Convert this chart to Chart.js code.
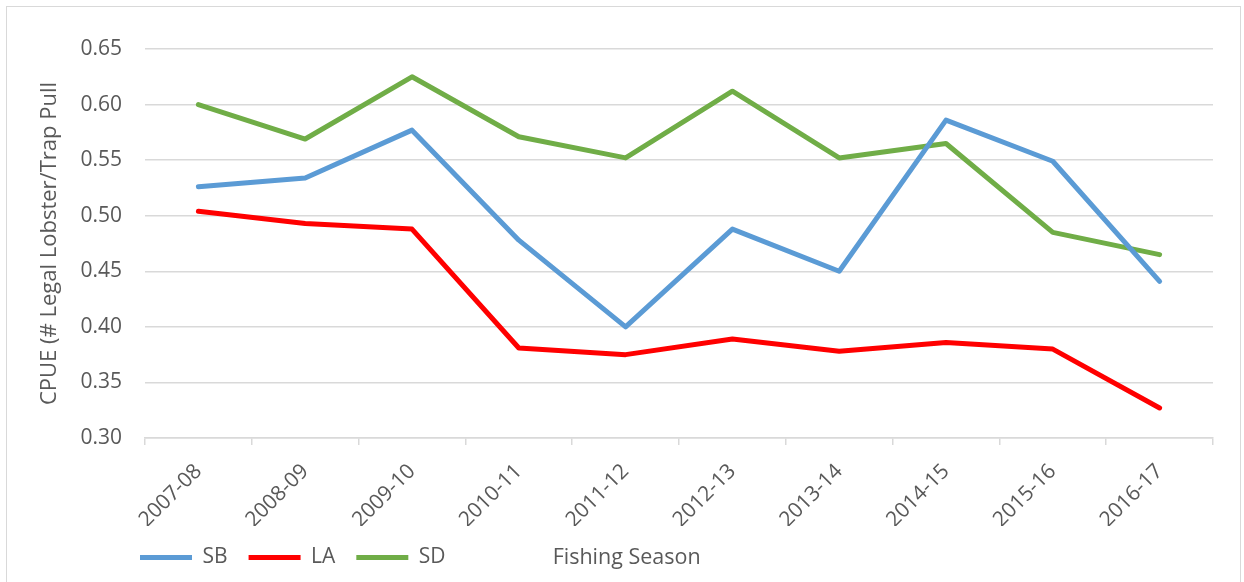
<!DOCTYPE html>
<html>
<head>
<meta charset="utf-8">
<script src="https://cdn.jsdelivr.net/npm/chart.js@4/dist/chart.umd.min.js"></script>
<style>
  html, body { margin: 0; padding: 0; background: #fff; overflow: hidden; }
  #wrap { position: relative; width: 1244px; height: 582px; }
  #frame { position: absolute; left: 6px; top: 6px; width: 1235px; height: 600px; border: 1.5px solid #d9d9d9; box-sizing: border-box; pointer-events: none; }
  canvas { position: absolute; left: 0; top: 0; }
</style>
</head>
<body>
<div id="wrap">
  <canvas id="cpueChart" width="1244" height="582"></canvas>
  <div id="frame"></div>
</div>
<script>
// --- data ---
const seasons = ['2007-08', '2008-09', '2009-10', '2010-11', '2011-12', '2012-13', '2013-14', '2014-15', '2015-16', '2016-17'];
const sbValues = [0.526, 0.534, 0.577, 0.478, 0.400, 0.488, 0.450, 0.586, 0.549, 0.441];
const laValues = [0.504, 0.493, 0.488, 0.381, 0.375, 0.389, 0.378, 0.386, 0.380, 0.327];
const sdValues = [0.600, 0.569, 0.625, 0.571, 0.552, 0.612, 0.552, 0.565, 0.485, 0.465];
const yTicks = [0.30, 0.35, 0.40, 0.45, 0.50, 0.55, 0.60, 0.65];

const FONT = '"Open Sans", Lato, "Liberation Sans", sans-serif';
const TEXT = '#595959';
const GRID = '#d9d9d9';

function lineSet(label, data, color) {
    return {
        label: label,
        data: data,
        borderColor: color,
        backgroundColor: color,
        borderWidth: 5,
        borderCapStyle: 'round',
        borderJoinStyle: 'round',
        pointRadius: 0,
        pointHoverRadius: 0,
        tension: 0,
        fill: false
    };
}

// legend shifted to the right like in the original, axis title drawn on the legend row
const legendRow = {
    id: 'legendRow',
    afterLayout(chart) {
        const lg = chart.legend;
        const shift = 119;
        lg.left = shift;
        lg.right = chart.width;
        lg.width = chart.width - shift;
    },
    afterDraw(chart) {
        const lg = chart.legend;
        const box = lg.legendHitBoxes && lg.legendHitBoxes[0];
        const area = chart.chartArea;
        const y = box ? box.top + box.height / 2 : lg.top + lg.height / 2;
        const ctx = chart.ctx;
        ctx.save();
        ctx.font = '21.5px ' + FONT;
        ctx.fillStyle = TEXT;
        ctx.textAlign = 'center';
        ctx.textBaseline = 'middle';
        ctx.fillText('Fishing Season', area.left + area.width * 0.451, y);
        ctx.restore();
    }
};

const ctx = document.getElementById('cpueChart').getContext('2d');
new Chart(ctx, {
    type: 'line',
    data: {
        labels: seasons,
        datasets: [
            lineSet('SB', sbValues, '#5b9bd5'),
            lineSet('LA', laValues, '#ff0000'),
            lineSet('SD', sdValues, '#70ad47')
        ]
    },
    options: {
        responsive: false,
        animation: false,
        layout: { padding: { left: 0, right: 31, top: 49, bottom: 4 } },
        plugins: {
            legend: {
                display: true,
                position: 'bottom',
                align: 'start',
                labels: {
                    usePointStyle: true,
                    pointStyle: 'line',
                    pointStyleWidth: 52,
                    boxWidth: 52,
                    boxHeight: 20,
                    padding: 21,
                    color: TEXT,
                    font: { family: FONT, size: 21 }
                }
            },
            tooltip: { enabled: false }
        },
        scales: {
            x: {
                offset: true,
                grid: {
                    offset: true,
                    drawOnChartArea: false,
                    drawTicks: true,
                    tickLength: 7,
                    color: GRID,
                    lineWidth: 1.5
                },
                border: { display: true, color: GRID, width: 1.5 },
                ticks: {
                    color: TEXT,
                    font: { family: FONT, size: 21 },
                    maxRotation: 45,
                    minRotation: 45,
                    padding: 14
                },
                afterFit(scale) { scale.height = 88; }
            },
            y: {
                min: 0.30,
                max: 0.65,
                afterBuildTicks(scale) { scale.ticks = yTicks.map(v => ({ value: v })); },
                grid: { color: GRID, lineWidth: 1.5, drawTicks: false },
                border: { display: false },
                ticks: {
                    color: TEXT,
                    font: { family: FONT, size: 21 },
                    padding: 23,
                    callback: v => Number(v).toFixed(2)
                },
                title: {
                    display: true,
                    text: 'CPUE (# Legal Lobster/Trap Pull',
                    color: TEXT,
                    font: { family: FONT, size: 22 },
                    padding: { top: 37, bottom: 0 }
                },
                afterFit(scale) { scale.width = 145; }
            }
        }
    },
    plugins: [legendRow]
});
</script>
</body>
</html>
